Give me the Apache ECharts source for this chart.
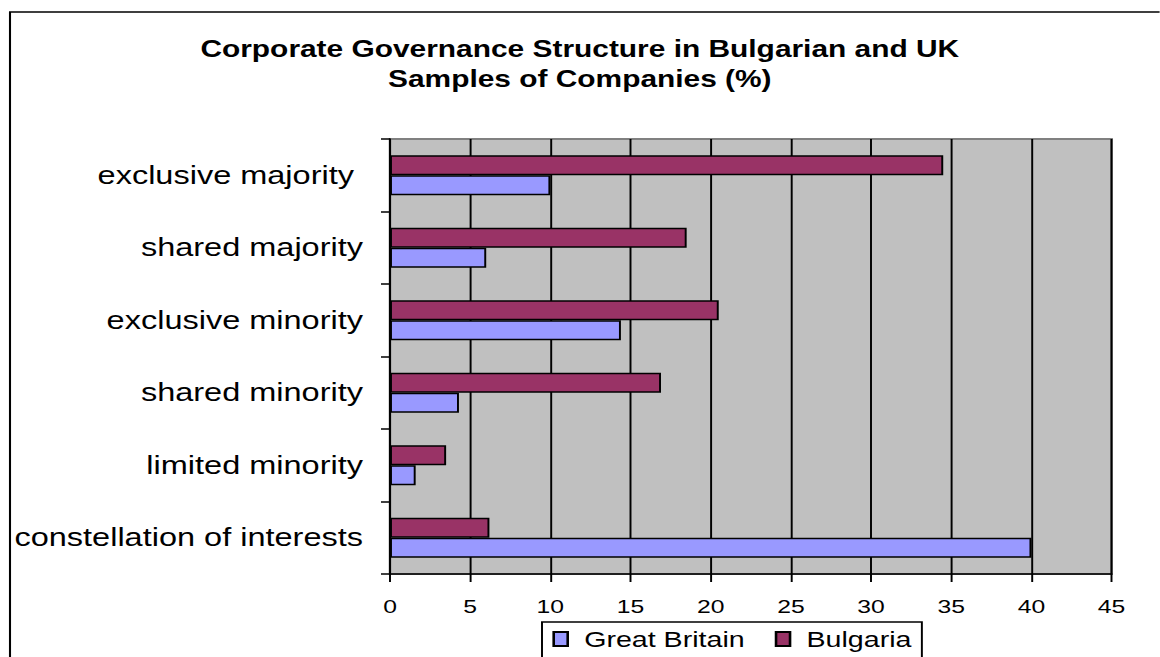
<!DOCTYPE html>
<html lang="en">
<head>
  <meta charset="UTF-8">
  <title>Corporate Governance Structure</title>
  <script src="https://cdn.jsdelivr.net/npm/echarts@6/dist/echarts.min.js"></script>
  <style>
    body { margin: 0; background: #fff; overflow: hidden; }
    /* the reference picture is stretched sideways, so the chart is drawn narrow and widened */
    #main { height: 657px; transform-origin: 0 0; }
  </style>
</head>
<body>
  <div id="main"></div>
  <script>
    var S = 1.3            // horizontal stretch of the reference
    var W = 1160 / S       // drawing width before stretch
    function px(x) { return x / S }

    // data, top to bottom
    var categories = ['exclusive majority ', 'shared majority', 'exclusive minority',
      'shared minority', 'limited minority', 'constellation of interests']
    var greatBritain = [10, 6, 14.4, 4.3, 1.6, 40]
    var bulgaria = [34.5, 18.5, 20.5, 16.9, 3.5, 6.2]
    var xTicks = { min: 0, max: 45, interval: 5 }

    var el = document.getElementById('main')
    el.style.width = W + 'px'
    el.style.transform = 'scaleX(' + S + ')'
    var chart = echarts.init(el, null, { renderer: 'svg' })

    var font = 'Liberation Sans, Arial, sans-serif'
    var option = {
      backgroundColor: '#fff',
      animation: false,
      title: {
        text: 'Corporate Governance Structure in Bulgarian and UK\nSamples of Companies (%)',
        left: 'center',
        top: 29,
        textStyle: { fontFamily: font, fontSize: 23, fontWeight: 'bold', color: '#000', lineHeight: 30 }
      },
      graphic: [{
        type: 'rect', z: -1, silent: true,
        shape: { x: px(10), y: 12, width: W + 50, height: 700 },
        style: { fill: 'none', stroke: '#000', lineWidth: 1.6 }
      }],
      legend: {
        left: px(542), top: 622,
        padding: [6, 8, 14, 8],
        borderColor: '#000', borderWidth: 1.5,
        itemWidth: px(14), itemHeight: 14, itemGap: px(30),
        icon: 'rect',
        textStyle: { fontFamily: font, fontSize: 22, color: '#000', padding: [0, 0, 0, px(10)] },
        data: ['Great Britain', 'Bulgaria']
      },
      grid: {
        left: px(390), right: W - px(1112), top: 139, bottom: 657 - 574,
        show: true, backgroundColor: '#c0c0c0', borderColor: '#808080', borderWidth: 2
      },
      xAxis: {
        type: 'value', min: xTicks.min, max: xTicks.max, interval: xTicks.interval,
        axisLine: { show: true, lineStyle: { color: '#000', width: 1.5 } },
        axisTick: { show: true, length: 8, lineStyle: { color: '#000', width: 1.5 } },
        axisLabel: { fontFamily: font, fontSize: 19, color: '#000', margin: 23 },
        splitLine: { show: true, lineStyle: { color: '#000', width: 1.5 } }
      },
      yAxis: {
        type: 'category', inverse: true, data: categories,
        axisLine: { show: true, lineStyle: { color: '#000', width: 1.5 } },
        axisTick: { show: true, length: px(9), lineStyle: { color: '#000', width: 1.5 } },
        axisLabel: { fontFamily: font, fontSize: 25, color: '#000', margin: px(27) },
        splitLine: { show: false }
      },
      // Bulgaria first so it sits above Great Britain in each band
      series: [{
        name: 'Bulgaria', type: 'bar', data: bulgaria,
        barWidth: 20, barGap: '0%',
        itemStyle: { color: '#993366', borderColor: '#000', borderWidth: 1.5 }
      }, {
        name: 'Great Britain', type: 'bar', data: greatBritain,
        barWidth: 20, barGap: '0%',
        itemStyle: { color: '#9999ff', borderColor: '#000', borderWidth: 1.5 }
      }]
    }
    chart.setOption(option)
  </script>
</body>
</html>
